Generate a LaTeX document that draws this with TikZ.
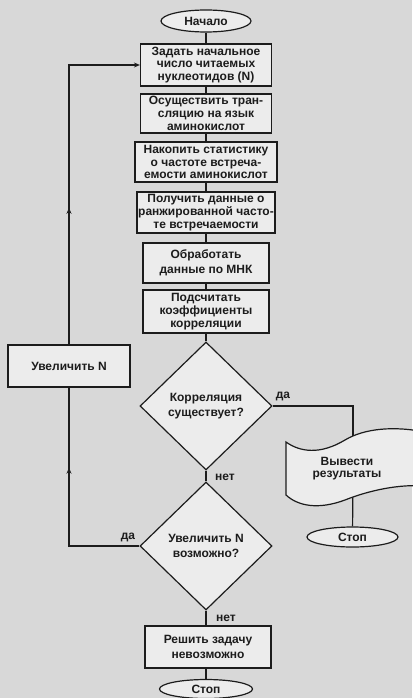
\documentclass[tikz,border=0pt]{standalone}
\usepackage{fontspec}
\setmainfont{Liberation Sans}
\usetikzlibrary{shapes.geometric,arrows.meta,decorations.markings}
\definecolor{paper}{RGB}{216,216,216}
\definecolor{boxfill}{RGB}{236,236,236}
\definecolor{ink}{RGB}{28,28,28}
\pgfdeclarelayer{paperlayer}
\pgfdeclarelayer{back}
\pgfsetlayers{paperlayer,back,main}
\begin{document}
\begin{tikzpicture}[x=1pt,y=-1pt,
  every node/.style={font=\fontsize{12}{12.8}\selectfont\bfseries, text=ink},
  proc/.style={draw=ink, line width=1.2pt, fill=boxfill, rectangle, align=center, inner sep=0.5pt},
  term/.style={draw=ink, line width=1.2pt, fill=boxfill, ellipse, inner sep=0pt},
  dec/.style={draw=ink, line width=1.2pt, fill=boxfill, diamond, aspect=1, inner sep=0pt, align=center},
  conn/.style={draw=ink, line width=1.2pt},
  lbl/.style={inner sep=0pt},
  midup/.style={postaction={decorate, decoration={markings, mark=at position #1 with {\arrow{Stealth[length=6pt,width=5pt]}}}}}
]
\begin{pgfonlayer}{paperlayer}
\fill[paper] (0,0) rectangle (412,698);
\end{pgfonlayer}
\useasboundingbox (0,0) rectangle (412,698);

\node[term, minimum width=90pt, minimum height=22pt] (start) at (206,21) {Начало};
\node[proc, minimum width=131pt, minimum height=42pt] (b1) at (206,65) {Задать начальное\\число читаемых\\нуклеотидов (N)};
\node[proc, minimum width=131pt, minimum height=39pt] (b2) at (206,113.5) {Осуществить тран-\\сляцию на язык\\аминокислот};
\node[proc, minimum width=142pt, minimum height=40pt] (b3) at (206,162) {Накопить статистику\\о частоте встреча-\\емости аминокислот};
\node[proc, minimum width=138pt, minimum height=41pt] (b4) at (206,212.5) {Получить данные о\\ранжированной часто-\\те встречаемости};
\node[proc, minimum width=126pt, minimum height=40pt] (b5) at (206,263) {Обработать\\[2pt]данные по МНК};
\node[proc, minimum width=126pt, minimum height=43pt] (b6) at (206,311.5) {Подсчитать\\коэффициенты\\корреляции};
\node[dec, minimum width=132pt, minimum height=128pt] (d1) at (206,406) {Корреляция\\[2pt]существует?};
\node[dec, minimum width=132pt, minimum height=128pt] (d2) at (206,546) {Увеличить N\\[2pt]возможно?};
\node[proc, minimum width=126pt, minimum height=42pt] (b7) at (208,647) {Решить задачу\\[2pt]невозможно};
\node[term, minimum width=93pt, minimum height=19pt] (stop1) at (206,689) {Стоп};
\node[proc, minimum width=122pt, minimum height=42pt] (inc) at (69,366) {Увеличить N};

% output (punched-tape) shape
\draw[draw=ink, line width=1.2pt, fill=boxfill]
  (286,442) .. controls (300,452) and (320,455) .. (345,440)
  .. controls (365,428) and (395,426) .. (425,432)
  -- (425,486)
  .. controls (400,484) and (370,490) .. (345,500)
  .. controls (318,510) and (298,506) .. (286,495) -- cycle;
\node[align=center] (out) at (347,469) {Вывести\\[-1pt]результаты};
\coordinate (outc) at (353,470);
\node[term, minimum width=91pt, minimum height=20pt] (stop2) at (352.5,537) {Стоп};

\begin{pgfonlayer}{back}
\draw[conn] (start) -- (b1);
\draw[conn] (b1) -- (b2);
\draw[conn] (b2) -- (b3);
\draw[conn] (b3) -- (b4);
\draw[conn] (b4) -- (b5);
\draw[conn] (b5) -- (b6);
\draw[conn] (b6) -- (d1);
\draw[conn] (d1) -- (d2);
\draw[conn] (d2) -- (d2 |- b7.north);
\draw[conn] (b7.south -| stop1) -- (stop1);
\draw[conn] (d1.east) -| (outc);
\draw[conn] (outc) -- (stop2);
\draw[conn, midup=0.65] (d2.west) -| (inc.south);
\draw[conn, midup=0.39, -{Stealth[length=6pt,width=5pt]}] (inc.north) |- (b1.west);
\end{pgfonlayer}

\node[lbl] (da1) at (283,396) {да};
\node[lbl] (net1) at (225,477) {нет};
\node[lbl] (da2) at (128,537) {да};
\node[lbl] (net2) at (226,618) {нет};
\end{tikzpicture}
\end{document}
